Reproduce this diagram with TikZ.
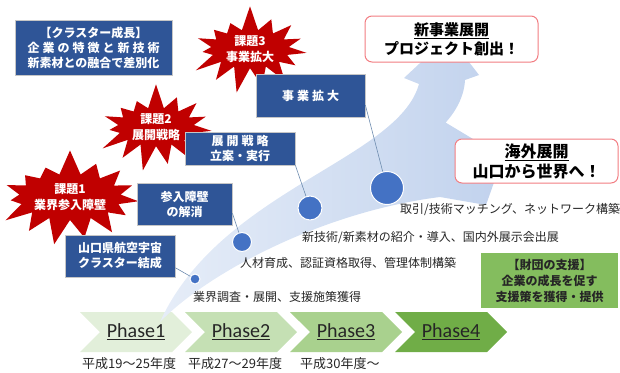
\documentclass[tikz,border=0pt]{standalone}
\usepackage{fontspec}
\newfontfamily\jp{Noto Sans CJK JP}
\newfontfamily\jpwide[LetterSpace=25]{Noto Sans CJK JP}
\newfontfamily\carlito{Carlito}
\usetikzlibrary{shapes.symbols,shapes.geometric}
\definecolor{clusterblue}{RGB}{47,85,151}
\definecolor{burstred}{RGB}{192,0,0}
\definecolor{pinkline}{RGB}{242,125,130}
\definecolor{dotblue}{RGB}{68,114,196}
\definecolor{stemblue}{RGB}{110,140,175}
\definecolor{bandblue}{RGB}{193,210,237}
\definecolor{bandlight}{RGB}{230,237,248}
\definecolor{phone}{RGB}{226,239,218}
\definecolor{phtwo}{RGB}{197,224,180}
\definecolor{phthree}{RGB}{169,209,142}
\definecolor{phfour}{RGB}{112,173,71}
\definecolor{fundgreen}{RGB}{132,189,94}
\definecolor{darktext}{RGB}{38,38,38}
\tikzstyle{bluebox} = [rectangle, draw=gray!45, line width=0.8pt, fill=clusterblue,
  text=white, align=center, inner sep=0pt, font=\jp\bfseries\fontsize{12}{15}\selectfont]
\tikzstyle{burst} = [starburst, starburst points=15, starburst point height=26pt,
  random starburst=7, fill=burstred, text=white, align=center, inner sep=0pt,
  font=\jp\bfseries\fontsize{12}{16}\selectfont]
\tikzstyle{redbox} = [rectangle, rounded corners=7pt, draw=pinkline, line width=1pt,
  fill=white, align=center, inner sep=0pt]
\tikzstyle{fundbox} = [rectangle, fill=fundgreen, text=darktext, align=center,
  inner sep=0pt, font=\jp\bfseries\fontsize{12}{16}\selectfont]
\tikzstyle{phase} = [signal, signal from=west, signal to=east, signal pointer angle=90,
  minimum width=112pt, minimum height=40pt, inner sep=0pt, text=darktext,
  font=\carlito\fontsize{20}{20}\selectfont]
\tikzstyle{dot} = [circle, fill=dotblue, draw=white, line width=1pt, inner sep=0pt]
\tikzstyle{stem} = [draw=stemblue, line width=0.6pt]
\tikzstyle{note} = [anchor=west, inner sep=0pt, text=darktext, font=\jp\fontsize{12}{12}\selectfont]
\tikzstyle{year} = [anchor=west, inner sep=0pt, text=darktext, font=\jp\fontsize{13}{13}\selectfont]
\begin{document}
\begin{tikzpicture}[x=1pt, y=-1pt]
    \useasboundingbox (0,0) rectangle (620,372);

    \node[phase, fill=phone] (p1) at (136,332) {\underline{Phase1}};
    \node[phase, fill=phtwo, right of=p1, node distance=105pt] (p2) {\underline{Phase2}};
    \node[phase, fill=phthree, right of=p2, node distance=105pt] (p3) {\underline{Phase3}};
    \node[phase, fill=phfour, right of=p3, node distance=105pt] (p4) {\underline{Phase4}};

    \node[year] (y1) at (82,364) {平成19～25年度};
    \node[year] (y2) at (188,364) {平成27～29年度};
    \node[year] (y3) at (300,364) {平成30年度～};

    \path[left color=bandlight, right color=bandblue]
        (160,322) .. controls (205,275) and (320,212) .. (440,197)
        -- (486,205) -- (503,157) -- (443,121) -- (437,131)
        .. controls (452,118) and (464,100) .. (465,80)
        -- (479,75) -- (449,36) -- (404,78) -- (419,84)
        .. controls (398,160) and (220,190) .. (160,322) -- cycle;

    \node[burst, minimum width=134pt, minimum height=98pt] (issue1) at (70,197) {課題1\\業界参入障壁};
    \node[burst, minimum width=128pt, minimum height=90pt] (issue2) at (156,127) {課題2\\展開戦略};
    \node[burst, minimum width=130pt, minimum height=90pt] (issue3) at (250,49) {課題3\\事業拡大};

    \node[bluebox, minimum width=157pt, minimum height=55pt] (cluster) at (93.5,47.5)
        {【クラスター成長】\\{\jpwide 企業の特徴と新技術}\\新素材との融合で差別化};
    \node[bluebox, minimum width=109pt, minimum height=43pt] (expand) at (310.5,95.5) {{\jpwide 事業拡大}};
    \node[bluebox, minimum width=110pt, minimum height=33pt] (strategy) at (240,148.5)
        {{\jpwide 展開戦略}\\立案・実行};
    \node[bluebox, minimum width=95pt, minimum height=42pt] (barrier) at (184.5,204) {参入障壁\\の解消};
    \node[bluebox, minimum width=110pt, minimum height=42pt] (yamaguchi) at (120,256)
        {山口県航空宇宙\\クラスター結成};

    \node[redbox, minimum width=173pt, minimum height=46pt, font=\jp\bfseries\fontsize{15}{19}\selectfont]
        (newbiz) at (451.5,39) {\underline{新事業展開}\\プロジェクト創出！};
    \node[redbox, minimum width=163pt, minimum height=44pt, font=\jp\bfseries\fontsize{16}{20}\selectfont]
        (overseas) at (536.5,161) {\underline{海外展開}\\山口から世界へ！};

    \node[fundbox, minimum width=137pt, minimum height=55pt] (fund) at (549.5,280.5)
        {【財団の支援】\\企業の成長を促す\\支援策を獲得・提供};

    \node[dot, minimum size=10pt] (c1) at (195,279) {};
    \node[dot, minimum size=19pt] (c2) at (242,242) {};
    \node[dot, minimum size=24pt] (c3) at (310,208) {};
    \node[dot, minimum size=33pt] (c4) at (387,188) {};

    \path[stem] (yamaguchi.-12) -- (c1);
    \path[stem] (barrier.-11) -- (c2);
    \path[stem] (strategy.south east) -- (c3);
    \path[stem] (expand.-10) -- (c4);

    \node[note] (n1) at (193,297) {業界調査・展開、支援施策獲得};
    \node[note] (n2) at (240,263) {人材育成、認証資格取得、管理体制構築};
    \node[note] (n3) at (302,238) {新技術/新素材の紹介・導入、国内外展示会出展};
    \node[note] (n4) at (400,210) {取引/技術マッチング、ネットワーク構築};
\end{tikzpicture}
\end{document}
